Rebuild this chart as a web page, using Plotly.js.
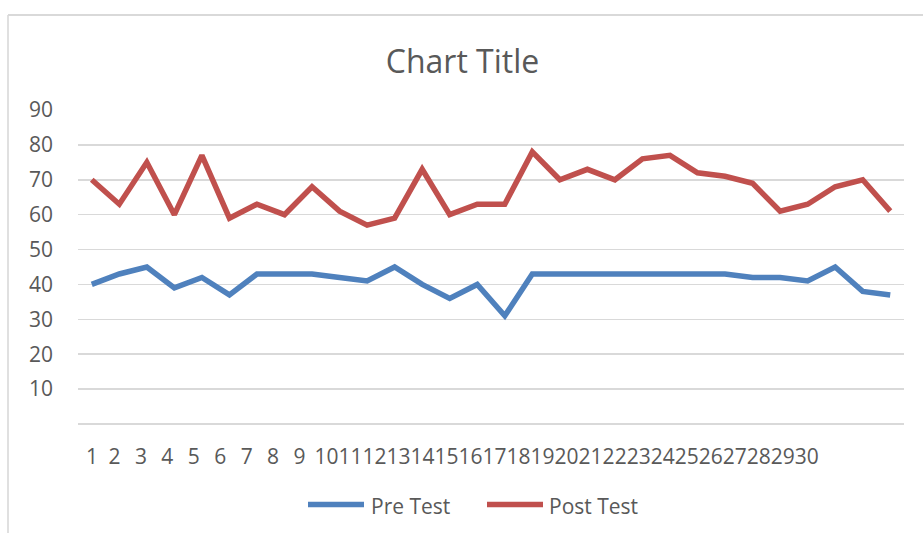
<!DOCTYPE html>
<html>
<head>
<meta charset="utf-8">
<script src="https://cdn.plot.ly/plotly-3.0.1.min.js"></script>
<style>
  html, body { margin: 0; padding: 0; background: #ffffff; }
  #chart { width: 923px; height: 533px; }
</style>
</head>
<body>
<div id="chart"></div>
<script>
// ---- data ----
const categories = [1, 2, 3, 4, 5, 6, 7, 8, 9, 10, 11, 12, 13, 14, 15, 16, 17, 18, 19, 20, 21, 22, 23, 24, 25, 26, 27, 28, 29, 30];
const preTest  = [40, 43, 45, 39, 42, 37, 43, 43, 43, 42, 41, 45, 40, 36, 40, 31, 43, 43, 43, 43, 43, 43, 43, 43, 42, 42, 41, 45, 38, 37];
const postTest = [70, 63, 75, 60, 77, 59, 63, 60, 68, 61, 57, 59, 73, 60, 63, 63, 78, 70, 73, 70, 76, 77, 72, 71, 69, 61, 63, 68, 70, 61];
const seriesNames = ['Pre Test', 'Post Test'];
const xTickLabels = ['1', '2', '3', '4', '5', '6', '7', '8', '9', '10', '11', '12', '13', '14', '15', '16', '17', '18', '19', '20', '21', '22', '23', '24', '25', '26', '27', '28', '29', '30'];
const yTickValues = [0, 10, 20, 30, 40, 50, 60, 70, 80, 90];
const yTickLabels = ['0', '10', '20', '30', '40', '50', '60', '70', '80', '90'];
const chartTitle = 'Chart Title';

// ---- style ----
const W = 923, H = 533;
const M = { l: 78, r: 19, t: 110, b: 109 };
const PW = W - M.l - M.r, PH = H - M.t - M.b;
const px2x = p => (p - M.l) / PW;          // page px -> paper x
const py2y = p => (H - M.b - p) / PH;      // page px -> paper y
const colors = ['#4F81BD', '#C0504D'];
const textColor = '#595959';
const gridColor = '#D9D9D9';
const FONT = '"Open Sans", "Noto Sans", sans-serif';

const traces = [preTest, postTest].map((vals, i) => ({
  type: 'scatter',
  mode: 'lines',
  x: categories,
  y: vals,
  name: seriesNames[i],
  line: { color: colors[i], width: 5.5 },
  showlegend: false,
  hoverinfo: 'x+y+name'
}));

// x category labels, drawn as one text run like the reference
const gapA = '\u2002';
const gapB = '\u00A0\u00A0\u2006';
const gapC = '\u00A0\u2006';
const first = xTickLabels.slice(0, 9);
const xLabelText = first[0] + gapA + first.slice(1).join(gapB) + gapC + xTickLabels.slice(9).join('');

const annotations = [
  { xref: 'paper', yref: 'paper', x: px2x(83.5), y: py2y(456), xanchor: 'left', yanchor: 'middle',
    text: xLabelText, showarrow: false, font: { family: FONT, size: 21, color: textColor } },
  // manual legend texts
  { xref: 'paper', yref: 'paper', x: px2x(369), y: py2y(506), xanchor: 'left', yanchor: 'middle',
    text: seriesNames[0], showarrow: false, font: { family: FONT, size: 21, color: textColor } },
  { xref: 'paper', yref: 'paper', x: px2x(547), y: py2y(506), xanchor: 'left', yanchor: 'middle',
    text: seriesNames[1], showarrow: false, font: { family: FONT, size: 21, color: textColor } }
];

const shapes = [
  // gridline at the lowest tick (value 0), which Plotly skips at the range edge
  { type: 'line', xref: 'paper', yref: 'y', x0: 0, x1: 1, y0: yTickValues[0], y1: yTickValues[0],
    layer: 'below', line: { color: gridColor, width: 1.5 } },
  // chart area border (left and top)
  { type: 'line', xref: 'paper', yref: 'paper', x0: px2x(8), x1: px2x(8), y0: py2y(15), y1: py2y(533),
    line: { color: '#D9D9D9', width: 1.6 } },
  { type: 'line', xref: 'paper', yref: 'paper', x0: px2x(8), x1: px2x(923), y0: py2y(15), y1: py2y(15),
    line: { color: '#D9D9D9', width: 1.8 } },
  // legend keys
  { type: 'line', xref: 'paper', yref: 'paper', x0: px2x(308), x1: px2x(364), y0: py2y(504.5), y1: py2y(504.5),
    line: { color: colors[0], width: 5.5 } },
  { type: 'line', xref: 'paper', yref: 'paper', x0: px2x(487), x1: px2x(543), y0: py2y(504.5), y1: py2y(504.5),
    line: { color: colors[1], width: 5.5 } }
];

const layout = {
  width: W, height: H, autosize: false,
  margin: M,
  paper_bgcolor: '#ffffff', plot_bgcolor: '#ffffff',
  font: { family: FONT, color: textColor },
  showlegend: false,
  title: {
    text: chartTitle,
    xref: 'container', yref: 'container',
    x: 462.5 / W, xanchor: 'center',
    y: 1 - 62 / H, yanchor: 'middle',
    font: { family: FONT, size: 32, color: textColor }
  },
  xaxis: {
    range: [0.5, 30.5],
    showgrid: false, zeroline: false, showline: false,
    showticklabels: false, ticks: '', fixedrange: true
  },
  yaxis: {
    range: [0, 90],
    tickmode: 'array',
    tickvals: yTickValues,
    ticktext: yTickLabels.map((t, i) => yTickValues[i] === 0 ? '' : t),
    showgrid: true, gridcolor: gridColor, gridwidth: 1.5,
    zeroline: true, zerolinecolor: gridColor, zerolinewidth: 1.5,
    showline: false, ticks: '',
    ticklabelstandoff: 24,
    tickfont: { family: FONT, size: 21, color: textColor },
    fixedrange: true
  },
  shapes: shapes,
  annotations: annotations
};

Plotly.newPlot('chart', traces, layout, { displayModeBar: false, staticPlot: true });
</script>
</body>
</html>
